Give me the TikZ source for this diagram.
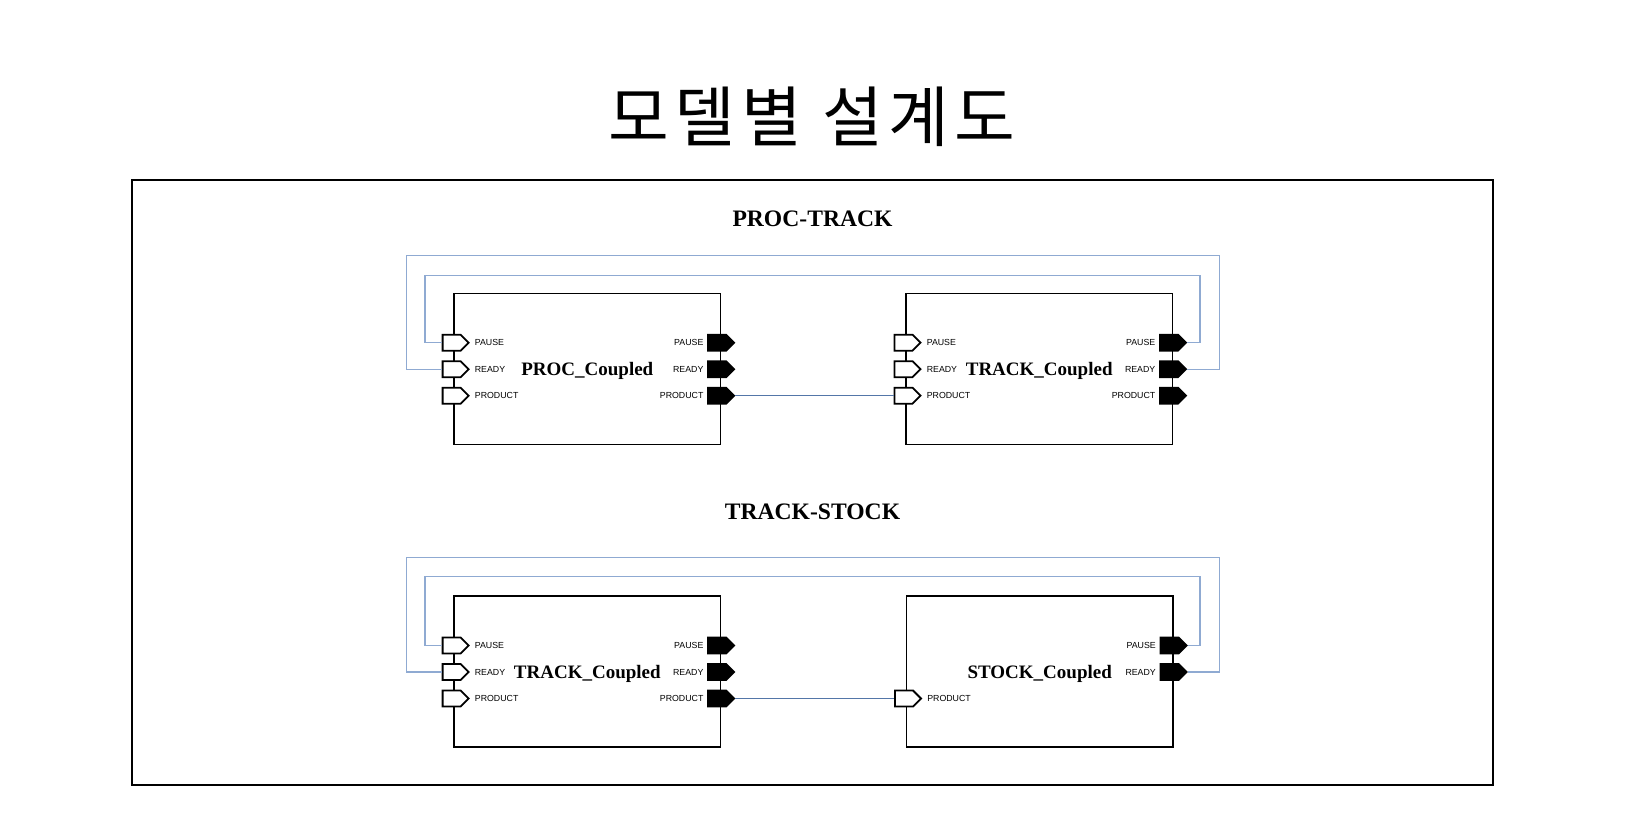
\documentclass[tikz,border=0pt]{standalone}
\usepackage{fontspec}
\setmainfont{Liberation Serif}
\setsansfont{Liberation Sans}
\newfontfamily\krfont[LetterSpace=8.5]{Noto Sans CJK KR}
\usetikzlibrary{shapes.symbols,calc}
\definecolor{fbblue}{RGB}{143,170,210}
\definecolor{prodblue}{RGB}{84,118,168}
\begin{document}
\begin{tikzpicture}[x=0.5pt,y=-0.5pt,
    box/.style = {draw, line width=0.6pt, minimum width=133.3pt, minimum height=75.5pt,
                  inner sep=0pt, text depth=0pt, font=\fontsize{9.5}{11}\selectfont\bfseries},
    port/.style = {draw, line width=0.9pt, signal, signal to=east, signal pointer angle=90,
                   minimum width=13pt, minimum height=8pt, inner sep=0pt},
    inport/.style = {port, fill=white, anchor=west},
    outport/.style = {port, fill=black, anchor=west},
    portlabel/.style = {font=\sffamily\fontsize{4.4}{5}\selectfont, inner sep=0.5pt},
    fb/.style = {draw=fbblue, line width=0.7pt},
    prod/.style = {draw=prodblue, line width=0.6pt}]
  \useasboundingbox (0,0) rectangle (1625,813);
  \node (title) at (812,117) {\krfont\fontsize{33}{36}\selectfont 모델별 설계도};
  \draw[line width=1.1pt] (131.7,180) rectangle (1493,785);
  %
  \node[font=\fontsize{11.8}{13}\selectfont\bfseries] (sec1) at (812.5,219) {PROC-TRACK};
  \node[box] (L1) at (587.3,368.7) {PROC\_Coupled};
  \node[box] (R1) at (1039.2,368.7) {TRACK\_Coupled};
  \node[inport, label={[portlabel, label distance=1.8pt]east:PAUSE}] (L1pausein) at ($(L1.west)+(-11.7,-26)$) {};
  \node[inport, label={[portlabel, label distance=1.8pt]east:READY}] (L1readyin) at ($(L1.west)+(-11.7,0.5)$) {};
  \node[inport, label={[portlabel, label distance=1.8pt]east:PRODUCT}] (L1productin) at ($(L1.west)+(-11.7,27)$) {};
  \node[outport, label={[portlabel, label distance=1.2pt]west:PAUSE}] (L1pauseout) at ($(L1.east)+(-14,-26)$) {};
  \node[outport, label={[portlabel, label distance=1.2pt]west:READY}] (L1readyout) at ($(L1.east)+(-14,0.5)$) {};
  \node[outport, label={[portlabel, label distance=1.2pt]west:PRODUCT}] (L1productout) at ($(L1.east)+(-14,27)$) {};
  \node[inport, label={[portlabel, label distance=1.8pt]east:PAUSE}] (R1pausein) at ($(R1.west)+(-11.7,-26)$) {};
  \node[inport, label={[portlabel, label distance=1.8pt]east:READY}] (R1readyin) at ($(R1.west)+(-11.7,0.5)$) {};
  \node[inport, label={[portlabel, label distance=1.8pt]east:PRODUCT}] (R1productin) at ($(R1.west)+(-11.7,27)$) {};
  \node[outport, label={[portlabel, label distance=1.2pt]west:PAUSE}] (R1pauseout) at ($(R1.east)+(-14,-26)$) {};
  \node[outport, label={[portlabel, label distance=1.2pt]west:READY}] (R1readyout) at ($(R1.east)+(-14,0.5)$) {};
  \node[outport, label={[portlabel, label distance=1.2pt]west:PRODUCT}] (R1productout) at ($(R1.east)+(-14,27)$) {};
  %
  \draw[prod] (L1productout.east) -- (R1productin.west);
  \draw[fb] (L1readyin.west) -| (406.7,255.7) -| (1219.3,369.2) -- (R1readyout.east);
  \draw[fb] (L1pausein.west) -| (425,275.7) -| (1200,342.7) -- (R1pauseout.east);
  %
  \node[font=\fontsize{11.8}{13}\selectfont\bfseries] (sec2) at (812.5,511.3) {TRACK-STOCK};
  \node[box] (L2) at (587.3,671.5) {TRACK\_Coupled};
  \node[box] (R2) at (1039.7,671.5) {STOCK\_Coupled};
  \node[inport, label={[portlabel, label distance=1.8pt]east:PAUSE}] (L2pausein) at ($(L2.west)+(-11.7,-26)$) {};
  \node[inport, label={[portlabel, label distance=1.8pt]east:READY}] (L2readyin) at ($(L2.west)+(-11.7,0.5)$) {};
  \node[inport, label={[portlabel, label distance=1.8pt]east:PRODUCT}] (L2productin) at ($(L2.west)+(-11.7,27)$) {};
  \node[outport, label={[portlabel, label distance=1.2pt]west:PAUSE}] (L2pauseout) at ($(L2.east)+(-14,-26)$) {};
  \node[outport, label={[portlabel, label distance=1.2pt]west:READY}] (L2readyout) at ($(L2.east)+(-14,0.5)$) {};
  \node[outport, label={[portlabel, label distance=1.2pt]west:PRODUCT}] (L2productout) at ($(L2.east)+(-14,27)$) {};
  \node[inport, label={[portlabel, label distance=1.8pt]east:PRODUCT}] (R2productin) at ($(R2.west)+(-11.7,27)$) {};
  \node[outport, label={[portlabel, label distance=1.2pt]west:PAUSE}] (R2pauseout) at ($(R2.east)+(-14,-26)$) {};
  \node[outport, label={[portlabel, label distance=1.2pt]west:READY}] (R2readyout) at ($(R2.east)+(-14,0.5)$) {};
  %
  \draw[prod] (L2productout.east) -- (R2productin.west);
  \draw[fb] (L2readyin.west) -| (406.7,557.7) -| (1219.3,672) -- (R2readyout.east);
  \draw[fb] (L2pausein.west) -| (425,576.7) -| (1200,645.5) -- (R2pauseout.east);
\end{tikzpicture}
\end{document}
